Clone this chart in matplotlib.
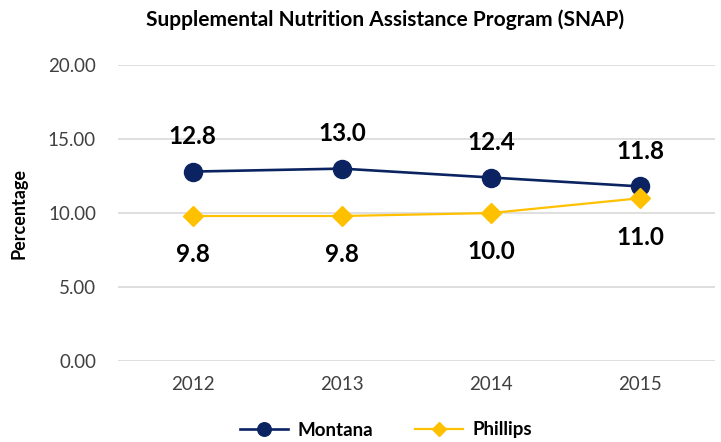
import matplotlib.pyplot as plt

years = ["2012", "2013", "2014", "2015"]
montana = [12.8, 13.0, 12.4, 11.8]
phillips = [9.8, 9.8, 10.0, 11.0]

plt.rcParams['font.family'] = ['Lato', 'DejaVu Sans']

fig = plt.figure(figsize=(7.21, 4.42), dpi=100)
ax = fig.add_axes([0.164, 0.183, 0.827, 0.670])

x = list(range(len(years)))
ax.plot(x, montana, color="#0b2461", lw=1.9, marker="o", markersize=13, label="Montana", zorder=3)
ax.plot(x, phillips, color="#ffc000", lw=1.6, marker="D", markersize=10, label="Phillips", zorder=3)

for xi, v in zip(x, montana):
    ax.annotate(f"{v:.1f}", (xi, v), xytext=(0, 25), textcoords="offset points",
                ha="center", va="center", fontsize=17.5, fontweight="bold")
for xi, v in zip(x, phillips):
    ax.annotate(f"{v:.1f}", (xi, v), xytext=(0, -28), textcoords="offset points",
                ha="center", va="center", fontsize=17.5, fontweight="bold")

ax.set_xlim(-0.5, 3.5)
ax.set_ylim(0, 20)
ax.set_yticks([0, 5, 10, 15, 20])
ax.set_yticklabels([f"{t:.2f}" for t in [0, 5, 10, 15, 20]])
ax.set_xticks(x)
ax.set_xticklabels(years)
ax.tick_params(axis="both", length=0, labelsize=13.5, colors="#404040")
ax.tick_params(axis="y", pad=16)
ax.tick_params(axis="x", pad=11)
ax.grid(axis="y", color="#d9d9d9", lw=1.2)
ax.set_axisbelow(True)
for s in ax.spines.values():
    s.set_visible(False)

ax.set_ylabel("Percentage", fontsize=13, fontweight="bold")
ax.yaxis.set_label_coords(-0.152, 0.5)
fig.text(385 / 721, 1 - 20 / 442, "Supplemental Nutrition Assistance Program (SNAP)",
         fontsize=15, fontweight="bold", ha="center", va="center")

leg = ax.legend(loc="center", bbox_to_anchor=(386 / 721, 1 - 430 / 442), bbox_transform=fig.transFigure,
                ncol=2, frameon=False, prop={"size": 13.5, "weight": "bold"},
                handlelength=2.6, columnspacing=2.2, handletextpad=0.5, markerscale=0.75)

fig.savefig("out.png", dpi=100)
